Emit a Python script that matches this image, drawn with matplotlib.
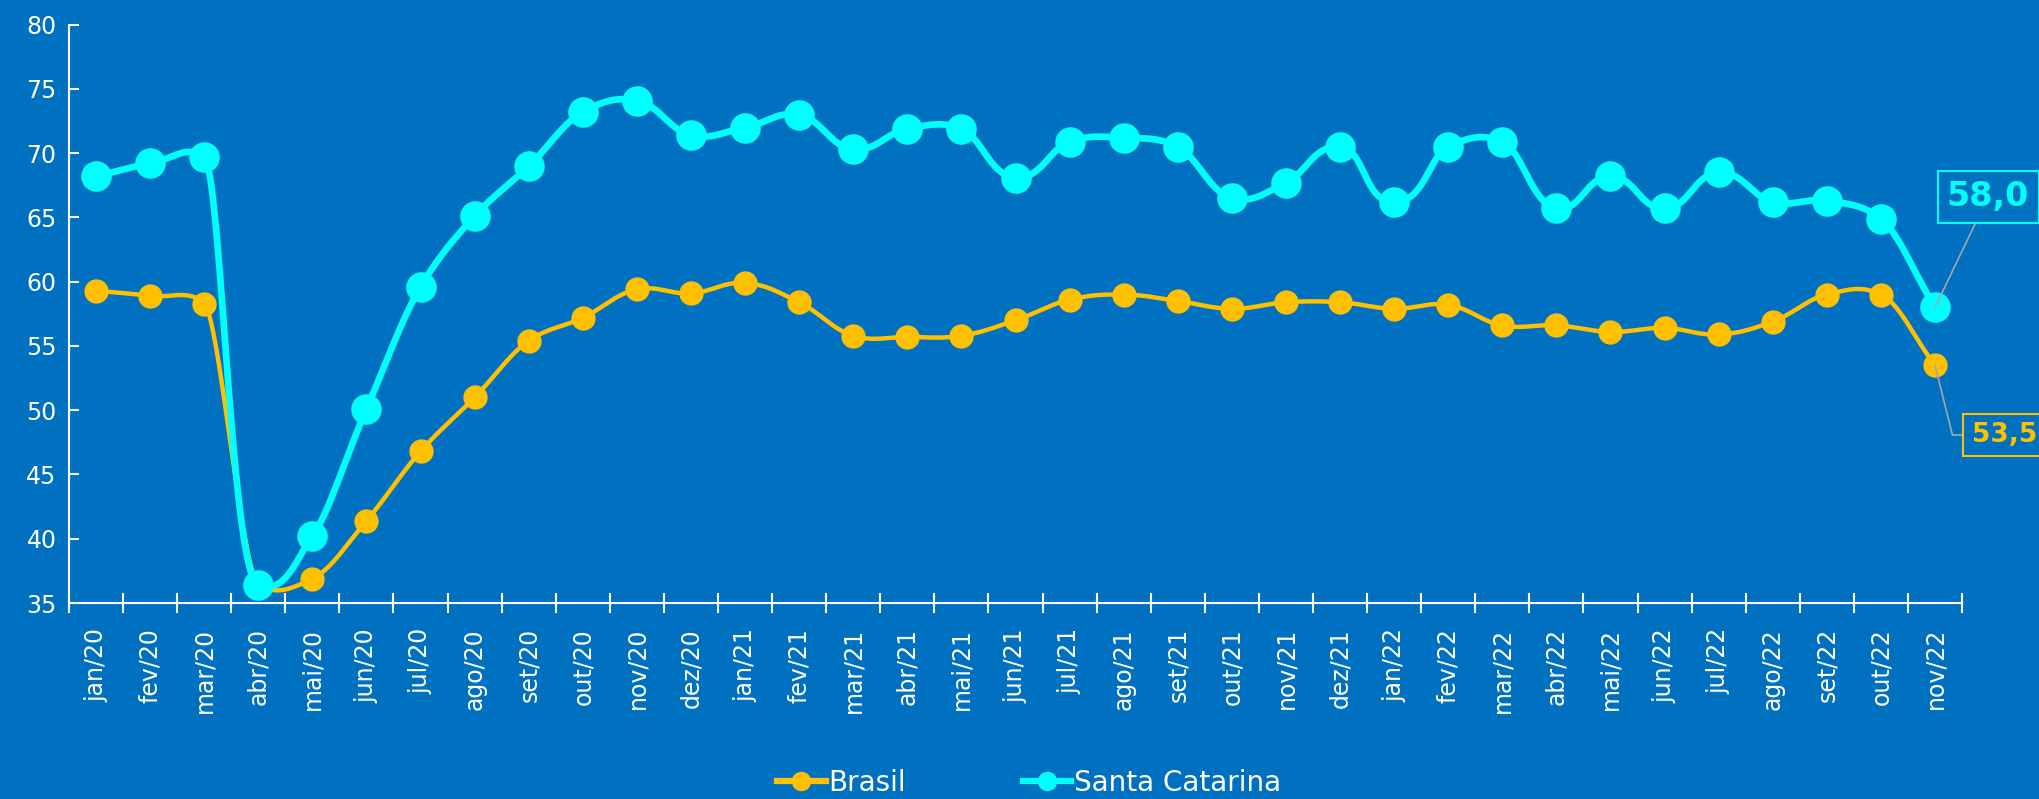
import numpy as np
import matplotlib.pyplot as plt

months = ['jan/20', 'fev/20', 'mar/20', 'abr/20', 'mai/20', 'jun/20', 'jul/20', 'ago/20',
          'set/20', 'out/20', 'nov/20', 'dez/20', 'jan/21', 'fev/21', 'mar/21', 'abr/21',
          'mai/21', 'jun/21', 'jul/21', 'ago/21', 'set/21', 'out/21', 'nov/21', 'dez/21',
          'jan/22', 'fev/22', 'mar/22', 'abr/22', 'mai/22', 'jun/22', 'jul/22', 'ago/22',
          'set/22', 'out/22', 'nov/22']

brasil = [59.3, 58.9, 58.3, 36.5, 36.9, 41.4, 46.8, 51.0, 55.4, 57.2, 59.4, 59.1, 59.9,
          58.4, 55.8, 55.7, 55.8, 57.0, 58.6, 59.0, 58.5, 57.9, 58.4, 58.4, 57.9, 58.2,
          56.6, 56.6, 56.1, 56.4, 55.9, 56.9, 59.0, 59.0, 53.5]

santa_catarina = [68.2, 69.2, 69.7, 36.4, 40.2, 50.1, 59.6, 65.1, 69.0, 73.2, 74.1, 71.4,
                  72.0, 73.0, 70.3, 71.9, 71.9, 68.1, 70.9, 71.2, 70.5, 66.5, 67.7, 70.5,
                  66.2, 70.5, 70.9, 65.7, 68.2, 65.7, 68.5, 66.2, 66.3, 64.9, 58.0]

bg = '#0070C0'
c_br = '#FFC000'
c_sc = '#00FFFF'


def smooth(ax, x, y, n=40, k=0.4):
    # bezier tipo "linha suavizada": tangente = bissetriz, braco limitado pelo menor segmento
    P = ax.transData.transform(np.column_stack([x, y]))
    m = len(P)
    seg = np.hypot(*(P[1:] - P[:-1]).T)
    u = (P[1:] - P[:-1]) / seg[:, None]
    d = np.zeros_like(P)
    arm = np.zeros(m)
    for i in range(m):
        if i == 0:
            d[i] = u[0]
            arm[i] = seg[0]
        elif i == m - 1:
            d[i] = u[-1]
            arm[i] = seg[-1]
        else:
            v = u[i - 1] + u[i]
            d[i] = v / np.hypot(*v)
            arm[i] = min(seg[i - 1], seg[i])
    pts = []
    t = np.linspace(0, 1, n)[:, None]
    for i in range(m - 1):
        c1 = P[i] + d[i] * arm[i] * k
        c2 = P[i + 1] - d[i + 1] * arm[i + 1] * k
        b = (1 - t)**3 * P[i] + 3 * (1 - t)**2 * t * c1 + 3 * (1 - t) * t**2 * c2 + t**3 * P[i + 1]
        pts.append(b)
    pts = ax.transData.inverted().transform(np.vstack(pts))
    return pts[:, 0], pts[:, 1]


plt.rcParams['font.family'] = ['DejaVu Sans']

fig = plt.figure(figsize=(20.4, 7.99), dpi=100, facecolor=bg)
ax = fig.add_axes([0.0338, 0.2453, 0.928, 0.7238], facecolor=bg)

x = np.arange(len(months))
ax.set_xlim(-0.5, len(months) - 0.5)
ax.set_ylim(35, 80)

sx, sy = smooth(ax, x, brasil)
ax.plot(sx, sy, color=c_br, lw=3.2, zorder=3, solid_capstyle='round')
ax.plot(x, brasil, 'o', color=c_br, ms=16.5, zorder=4)

sx, sy = smooth(ax, x, santa_catarina)
ax.plot(sx, sy, color=c_sc, lw=4.8, zorder=5, solid_capstyle='round')
ax.plot(x, santa_catarina, 'o', color=c_sc, ms=21, zorder=6)

# legenda
ax.plot([], [], '-o', color=c_br, lw=4.5, ms=13, label='Brasil')
ax.plot([], [], '-o', color=c_sc, lw=4.5, ms=13, label='Santa Catarina')
handles, labels = ax.get_legend_handles_labels()
leg = fig.legend(handles[-2:], labels[-2:], loc='center', bbox_to_anchor=(0.5045, 0.02),
                 ncol=2, frameon=False, fontsize=20, labelcolor='white',
                 handlelength=1.75, handletextpad=0.1, columnspacing=4.2,
                 borderpad=0.1)

ax.set_yticks(np.arange(35, 81, 5))
ax.set_xticks(x)
ax.set_xticklabels(months, rotation=90)
ax.set_xticks(np.arange(-0.5, len(months), 1), minor=True)

for s in ['top', 'right']:
    ax.spines[s].set_visible(False)
for s in ['left', 'bottom']:
    ax.spines[s].set_color('white')
    ax.spines[s].set_linewidth(1.5)

ax.tick_params(axis='x', which='major', length=0, pad=18, labelsize=17, labelcolor='white')
ax.tick_params(axis='x', which='minor', direction='inout', length=14, width=1.5, color='white')
ax.tick_params(axis='y', direction='in', length=7, width=1.5, color='white',
               labelsize=17, labelcolor='white', pad=9)

# rotulos do ultimo ponto
ax.annotate('58,0', xy=(x[-1], santa_catarina[-1]), xytext=(34.98, 66.6),
            ha='center', va='center', fontsize=24, fontweight='bold', color=c_sc,
            bbox=dict(boxstyle='square,pad=0.28', fc=bg, ec=c_sc, lw=1.5),
            arrowprops=dict(arrowstyle='-', color='#A6A6A6', lw=1.2, shrinkA=0, shrinkB=0),
            annotation_clip=False, zorder=8)
ax.annotate('53,5', xy=(x[-1], brasil[-1]), xytext=(34.68, 48.07),
            ha='left', va='center', fontsize=19, fontweight='bold', color=c_br,
            bbox=dict(boxstyle='square,pad=0.32', fc=bg, ec=c_br, lw=1.5),
            arrowprops=dict(arrowstyle='-', color='#A6A6A6', lw=1.2, shrinkA=0, shrinkB=0,
                            connectionstyle='angle,angleA=0,angleB=-76,rad=0'),
            annotation_clip=False, zorder=8)

fig.savefig('out.png', dpi=100, facecolor=bg)
